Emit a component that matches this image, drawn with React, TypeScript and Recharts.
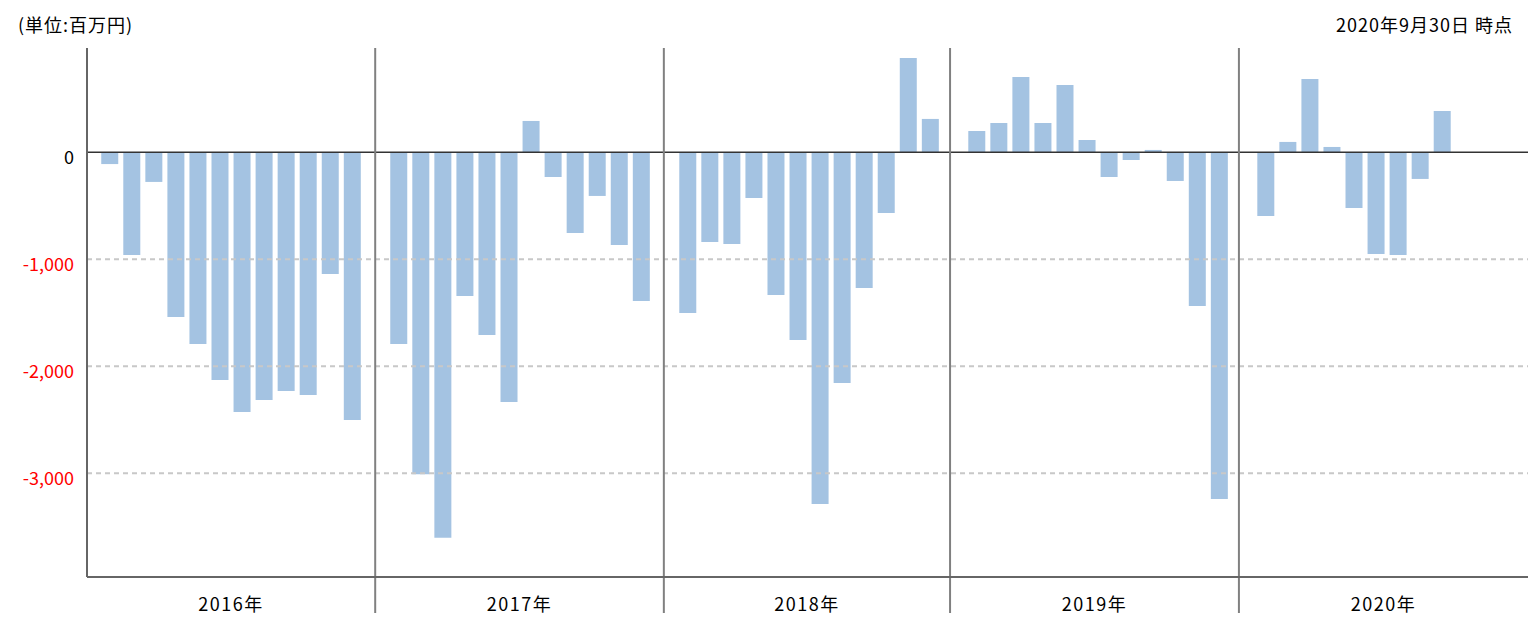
import { BarChart, Bar, XAxis, YAxis, ReferenceLine } from 'recharts';

// 月次の値（単位: 百万円）、年ごとに1月〜12月
const years = ['2016年', '2017年', '2018年', '2019年', '2020年'];
const v2016 = [-110, -960, -277, -1539, -1791, -2128, -2427, -2315, -2231, -2268, -1137, -2502];
const v2017 = [-1791, -3009, -3604, -1343, -1707, -2333, 293, -231, -754, -408, -866, -1389];
const v2018 = [-1502, -838, -857, -427, -1333, -1754, -3287, -2156, -1268, -567, 882, 312];
const v2019 = [199, 274, 704, 274, 629, 115, -231, -72, 22, -268, -1436, -3240];
const v2020 = [-595, 97, 685, 50, -520, -950, -960, -249, 386];
const yTicks = [0, -1000, -2000, -3000];

// x axis in "month slots"; each year block is a bit wider than 12 slots
const SECTION = 13.107;
const LEAD = 1.01;
const sectionEdges = [0, 13.07, 26.16, 39.14, 52.24, 65.35];

const yearly = [v2016, v2017, v2018, v2019, v2020];
const data = yearly.flatMap((vals, s) =>
  vals.map((value, m) => ({ pos: s * SECTION + LEAD + m, value }))
);
const yearCenters = years.map((_, i) => (sectionEdges[i] + sectionEdges[i + 1]) / 2);

if (typeof document !== 'undefined') document.body.style.margin = '0';

const FONT = '"Noto Sans CJK JP", "Noto Sans", sans-serif';

const YearTick = (props: any) => {
  const { x, y, index } = props;
  return (
    <text x={x} y={y + 26} textAnchor="middle" dominantBaseline="central" fontSize={18} fill="#000" fontFamily={FONT} letterSpacing={1.5}>
      {years[index]}
    </text>
  );
};

const ValueTick = (props: any) => {
  const { x, y, payload } = props;
  const v = payload.value as number;
  return (
    <text x={x - 13} y={y + 4} textAnchor="end" dominantBaseline="central" fontSize={18} fill={v === 0 ? '#000' : '#ff0000'} fontFamily={FONT}>
      {v.toLocaleString('en-US')}
    </text>
  );
};

const Divider = (p: any) => (
  <line
    x1={p.x1}
    x2={p.x2}
    y1={Math.min(p.y1, p.y2)}
    y2={Math.max(p.y1, p.y2) + 36}
    stroke="#808080"
    strokeWidth={2}
  />
);

export default function App() {
  return (
    <div style={{ position: 'relative', width: 1533, height: 625, background: '#fff', fontFamily: FONT }}>
      <div style={{ position: 'absolute', left: 18, top: 11, fontSize: 18, letterSpacing: 1, color: '#000' }}>(単位:百万円)</div>
      <div style={{ position: 'absolute', right: 20, top: 11, fontSize: 18, letterSpacing: 1, color: '#000' }}>2020年9月30日 時点</div>
      <BarChart width={1533} height={625} data={data} margin={{ top: 48, right: 5, bottom: 0, left: 0 }}>
        <XAxis
          type="number"
          dataKey="pos"
          domain={[0, sectionEdges[sectionEdges.length - 1]]}
          allowDataOverflow
          ticks={yearCenters}
          interval={0}
          height={48}
          tickSize={0}
          tickMargin={0}
          tickLine={false}
          axisLine={{ stroke: '#666', strokeWidth: 2 }}
          tick={<YearTick />}
        />
        <YAxis
          type="number"
          domain={[-3970, 975]}
          allowDataOverflow
          ticks={yTicks}
          interval={0}
          width={87}
          tickSize={0}
          tickMargin={0}
          tickLine={false}
          axisLine={{ stroke: '#666', strokeWidth: 2 }}
          tick={<ValueTick />}
        />
        <Bar dataKey="value" fill="#a4c3e2" barSize={17} isAnimationActive={false} />
        {yTicks.filter((t) => t !== 0).map((t) => (
          <ReferenceLine key={t} y={t} stroke="#c8c8c8" strokeWidth={2} strokeDasharray="5 4" />
        ))}
        <ReferenceLine y={0} stroke="#333" strokeWidth={1.5} />
        {sectionEdges.slice(1, -1).map((e) => (
          <ReferenceLine key={e} x={e} shape={Divider} />
        ))}
      </BarChart>
    </div>
  );
}
